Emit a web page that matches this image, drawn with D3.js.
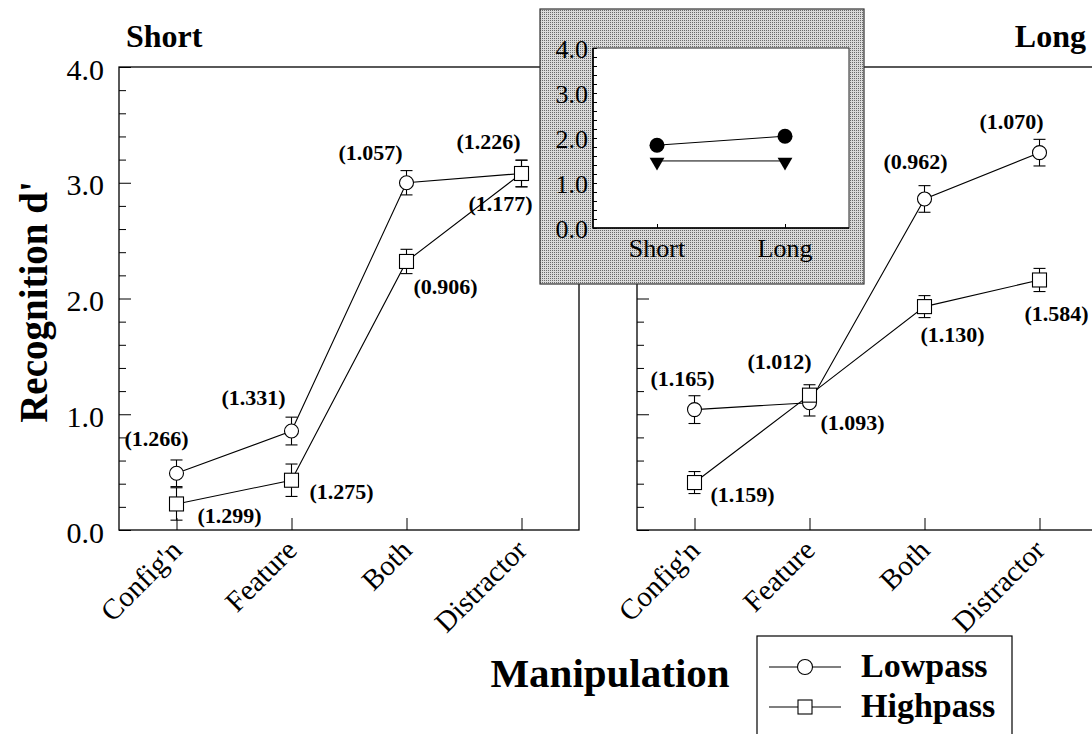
<!DOCTYPE html>
<html><head><meta charset="utf-8">
<script src="https://cdn.jsdelivr.net/npm/d3@7"></script>
<style>html,body{margin:0;padding:0;background:#fff;}svg{display:block;}</style>
</head><body>
<svg id="chart" width="1092" height="734"></svg>
<script>
// ---------- data ----------
const categories = ["Config'n", "Feature", "Both", "Distractor"];
const shortLow   = [0.49, 0.855, 3.00, 3.08];
const shortLowSE = [0.115, 0.12, 0.105, 0.115];
const shortHigh  = [0.225, 0.43, 2.32, 3.08];
const shortHighSE= [0.14, 0.14, 0.105, 0.115];
const longLow    = [1.04, 1.10, 2.86, 3.26];
const longLowSE  = [0.12, 0.115, 0.115, 0.115];
const longHigh   = [0.41, 1.165, 1.93, 2.16];
const longHighSE = [0.095, 0.09, 0.095, 0.10];
const shortLowSD = ["(1.266)", "(1.331)", "(1.057)", "(1.226)"];
const shortHighSD= ["(1.299)", "(1.275)", "(0.906)", "(1.177)"];
const longLowSD  = ["(1.165)", "(1.012)", "(0.962)", "(1.070)"];
const longHighSD = ["(1.159)", "(1.093)", "(1.130)", "(1.584)"];
const yTicks = [0, 1, 2, 3, 4];
const insetCats = ["Short", "Long"];
const insetLow  = [1.84, 2.04];
const insetHigh = [1.49, 1.49];
const seriesNames = ["Lowpass", "Highpass"];

// ---------- layout (label offsets, px) ----------
const offShortLow  = [[-20,-35],[-38,-34],[-36,-30],[-33,-32]];
const offShortHigh = [[53,11],[50,11],[39,25],[-21,30]];
const offLongLow   = [[-12,-31],[-30,-41],[-9,-38],[-28,-31]];
const offLongHigh  = [[48,12],[43,27],[28,28],[17,33]];

const FONT = "'Liberation Serif', 'Times New Roman', serif";
const svg = d3.select("#chart").style("font-family", FONT);

const defs = svg.append("defs");
const pat = defs.append("pattern").attr("id","stip").attr("width",2).attr("height",2)
  .attr("patternUnits","userSpaceOnUse");
pat.append("rect").attr("width",2).attr("height",2).attr("fill","#dadada");
pat.append("rect").attr("width",1).attr("height",1).attr("fill","#6a6a6a");

const y = d3.scaleLinear().domain([0,4]).range([530,67]);

function panel(x0, x1, low, lowSE, high, highSE, lowSD, highSD, offLow, offHigh, showLabels) {
  const x = d3.scalePoint().domain(categories).range([x0, x1]).padding(0.5);
  const g = svg.append("g");
  g.append("rect").attr("x", x0).attr("y", y(4)).attr("width", x1 - x0).attr("height", y(0) - y(4))
    .attr("fill","none").attr("stroke","#000").attr("stroke-width",1.3);
  const minor = d3.range(0, 4.001, 0.2).filter(v => Math.abs(v - Math.round(v)) > 1e-6);
  g.append("g").attr("transform",`translate(${x0},0)`)
    .call(d3.axisRight(y).tickValues(minor).tickSize(7).tickFormat(""))
    .call(s => s.select(".domain").remove());
  g.append("g").attr("transform",`translate(${x0},0)`)
    .call(d3.axisRight(y).tickValues(yTicks).tickSize(12).tickFormat(""))
    .call(s => s.select(".domain").remove());
  if (showLabels) {
    g.append("g").attr("transform",`translate(${x0},0)`)
      .call(d3.axisLeft(y).tickValues(yTicks).tickSize(0).tickPadding(15).tickFormat(d3.format(".1f")))
      .call(s => s.select(".domain").remove())
      .call(s => s.selectAll("text").attr("font-family",FONT).attr("font-size",30).attr("dy","0.4em").attr("fill","#000"));
  }
  g.append("g").attr("transform",`translate(0,${y(0)})`)
    .call(d3.axisTop(x).tickSize(12).tickFormat(""))
    .call(s => s.select(".domain").remove());
  g.selectAll(".xl").data(categories).enter().append("text")
    .attr("transform", d => `translate(${x(d)+7},${y(0)+22}) rotate(-45)`)
    .attr("text-anchor","end").attr("font-size",29).text(d => d);

  const line = d3.line().x((d,i) => x(categories[i])).y(d => y(d));
  g.append("path").datum(low).attr("d", line).attr("fill","none").attr("stroke","#000").attr("stroke-width",1.1);
  g.append("path").datum(high).attr("d", line).attr("fill","none").attr("stroke","#000").attr("stroke-width",1.1);

  function errBars(vals, se) {
    vals.forEach((v,i) => {
      const cx = x(categories[i]);
      const t = y(v + se[i]), b = y(v - se[i]);
      g.append("line").attr("x1",cx).attr("x2",cx).attr("y1",t).attr("y2",b).attr("stroke","#000").attr("stroke-width",1.1);
      [t,b].forEach(yy => g.append("line").attr("x1",cx-6).attr("x2",cx+6).attr("y1",yy).attr("y2",yy).attr("stroke","#000").attr("stroke-width",1.1));
    });
  }
  errBars(low, lowSE);
  errBars(high, highSE);
  g.selectAll(".c").data(low).enter().append("circle")
    .attr("cx",(d,i)=>x(categories[i])).attr("cy",d=>y(d)).attr("r",7)
    .attr("fill","#fff").attr("stroke","#000").attr("stroke-width",1.1);
  g.selectAll(".s").data(high).enter().append("rect")
    .attr("x",(d,i)=>x(categories[i])-7).attr("y",d=>y(d)-7).attr("width",14).attr("height",14)
    .attr("fill","#fff").attr("stroke","#000").attr("stroke-width",1.1);

  function sdLabels(vals, labs, offs) {
    g.selectAll(null).data(vals).enter().append("text")
      .attr("x",(d,i)=>x(categories[i]) + offs[i][0])
      .attr("y",(d,i)=>y(d) + offs[i][1])
      .attr("dy","0.35em").attr("text-anchor","middle")
      .attr("font-size",22).attr("font-weight","bold").text((d,i)=>labs[i]);
  }
  sdLabels(low, lowSD, offLow);
  sdLabels(high, highSD, offHigh);
}

panel(119, 579, shortLow, shortLowSE, shortHigh, shortHighSE, shortLowSD, shortHighSD, offShortLow, offShortHigh, true);
panel(637, 1097, longLow, longLowSE, longHigh, longHighSE, longLowSD, longHighSD, offLongLow, offLongHigh, false);

svg.append("text").attr("x",126).attr("y",47).attr("font-size",32).attr("font-weight","bold").text("Short");
svg.append("text").attr("x",1086).attr("y",47).attr("text-anchor","end").attr("font-size",32).attr("font-weight","bold").text("Long");
svg.append("text").attr("transform","translate(47,302) rotate(-90)").attr("text-anchor","middle")
  .attr("font-size",39).attr("font-weight","bold").text("Recognition d'");
svg.append("text").attr("x",610).attr("y",687).attr("text-anchor","middle")
  .attr("font-size",41).attr("font-weight","bold").text("Manipulation");

// ---------- inset ----------
const ins = svg.append("g");
ins.append("rect").attr("x",540).attr("y",9).attr("width",324).attr("height",275)
  .attr("fill","url(#stip)").attr("stroke","#333").attr("stroke-width",1.2);
const yi = d3.scaleLinear().domain([0,4]).range([228,48]);
const xi = d3.scalePoint().domain(insetCats).range([593,849]).padding(0.5);
ins.append("rect").attr("x",593).attr("y",yi(4)).attr("width",256).attr("height",yi(0)-yi(4))
  .attr("fill","#fff").attr("stroke","#222").attr("stroke-width",1);
ins.append("line").attr("x1",593).attr("x2",593).attr("y1",yi(4)).attr("y2",yi(0)).attr("stroke","#000").attr("stroke-width",1.6);
ins.append("line").attr("x1",593).attr("x2",849).attr("y1",yi(0)).attr("y2",yi(0)).attr("stroke","#000").attr("stroke-width",1.6);
ins.append("g").attr("transform","translate(593,0)")
  .call(d3.axisRight(yi).tickValues(d3.range(0,4.001,0.2)).tickSize(4).tickFormat(""))
  .call(s => s.select(".domain").remove());
ins.append("g").attr("transform","translate(593,0)")
  .call(d3.axisLeft(yi).tickValues(yTicks).tickSize(0).tickPadding(5).tickFormat(d3.format(".1f")))
  .call(s => s.select(".domain").remove())
  .call(s => s.selectAll("text").attr("font-family",FONT).attr("font-size",26).attr("dy","0.36em").attr("fill","#000"));
ins.append("g").attr("transform",`translate(0,${yi(0)})`)
  .call(d3.axisTop(xi).tickSize(4).tickFormat(""))
  .call(s => s.select(".domain").remove());
ins.selectAll(".il").data(insetCats).enter().append("text")
  .attr("x",d=>xi(d)).attr("y",257).attr("text-anchor","middle").attr("font-size",26).text(d=>d);
const li = d3.line().x((d,i)=>xi(insetCats[i])).y(d=>yi(d));
ins.append("path").datum(insetLow).attr("d",li).attr("fill","none").attr("stroke","#000").attr("stroke-width",1);
ins.append("path").datum(insetHigh).attr("d",li).attr("fill","none").attr("stroke","#000").attr("stroke-width",1);
ins.selectAll(".ic").data(insetLow).enter().append("circle")
  .attr("cx",(d,i)=>xi(insetCats[i])).attr("cy",d=>yi(d)).attr("r",7.5).attr("fill","#000");
ins.selectAll(".it").data(insetHigh).enter().append("path")
  .attr("d", d3.symbol(d3.symbolTriangle, 95))
  .attr("transform",(d,i)=>`translate(${xi(insetCats[i])},${yi(d)+1}) rotate(180)`).attr("fill","#000");

// ---------- legend ----------
const lg = svg.append("g");
lg.append("rect").attr("x",757).attr("y",636).attr("width",255).attr("height",110)
  .attr("fill","#fff").attr("stroke","#000").attr("stroke-width",1.2);
seriesNames.forEach((name,i) => {
  const ly = 667 + i*40;
  lg.append("line").attr("x1",769).attr("x2",841).attr("y1",ly).attr("y2",ly).attr("stroke","#000").attr("stroke-width",1.1);
  if (i === 0) lg.append("circle").attr("cx",805).attr("cy",ly).attr("r",7.5).attr("fill","#fff").attr("stroke","#000").attr("stroke-width",1.1);
  else lg.append("rect").attr("x",798).attr("y",ly-7).attr("width",14).attr("height",14).attr("fill","#fff").attr("stroke","#000").attr("stroke-width",1.1);
  lg.append("text").attr("x",861).attr("y",ly+10).attr("font-size",34).attr("font-weight","bold").text(name);
});
</script>
</body></html>
